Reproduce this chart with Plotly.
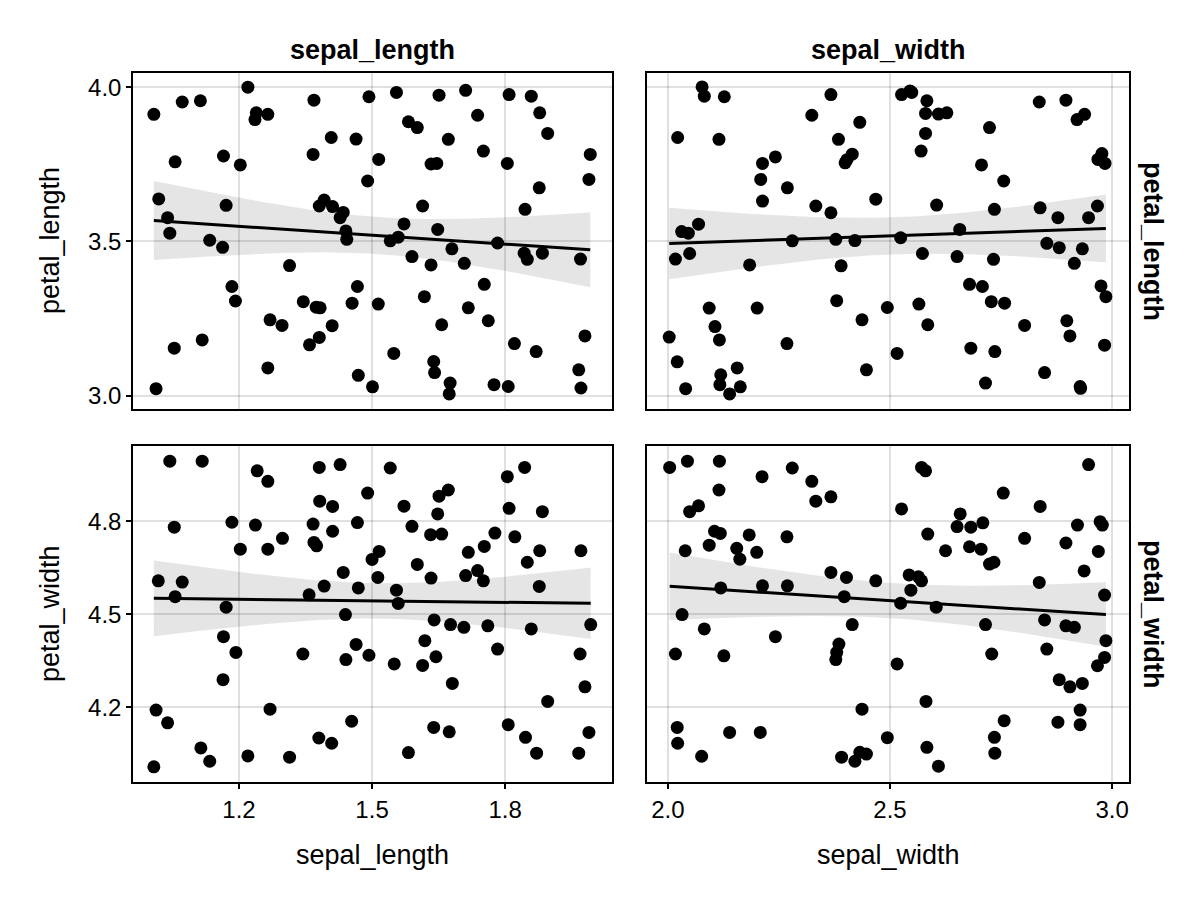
import numpy as np
import plotly.graph_objects as go
from plotly.subplots import make_subplots

# top-left: sepal_length vs petal_length
tl_x = [1.220, 1.072, 1.113, 1.008, 1.239, 1.265, 1.236, 1.056, 1.165, 1.203, 1.019, 1.171, 1.039,
        1.044, 1.134, 1.163, 1.314, 1.184, 1.192, 1.270, 1.297, 1.117, 1.054, 1.265, 1.013,
        1.369, 1.493, 1.555, 1.651, 1.582, 1.602, 1.672, 1.408, 1.464, 1.367, 1.515, 1.633, 1.646,
        1.490, 1.392, 1.381, 1.411, 1.435, 1.428, 1.614, 1.572, 1.648, 1.441, 1.443, 1.559, 1.541,
        1.680, 1.590, 1.633, 1.345, 1.374, 1.383, 1.467, 1.455, 1.514, 1.618, 1.410, 1.381, 1.359,
        1.657, 1.549, 1.639, 1.641, 1.469, 1.501, 1.676, 1.674,
        1.711, 1.809, 1.859, 1.738, 1.878, 1.896, 1.751, 1.805, 1.992, 1.989, 1.877, 1.845, 1.783,
        1.708, 1.843, 1.850, 1.884, 1.970, 1.753, 1.717, 1.762, 1.980, 1.821, 1.870, 1.966, 1.775,
        1.807, 1.971]
tl_y = [4.000, 3.952, 3.956, 3.912, 3.917, 3.912, 3.895, 3.758, 3.777, 3.748, 3.638, 3.617, 3.577,
        3.527, 3.504, 3.481, 3.422, 3.354, 3.307, 3.246, 3.228, 3.181, 3.154, 3.090, 3.023,
        3.958, 3.969, 3.983, 3.974, 3.888, 3.869, 3.831, 3.837, 3.832, 3.782, 3.766, 3.751, 3.753,
        3.696, 3.634, 3.615, 3.613, 3.594, 3.577, 3.615, 3.557, 3.539, 3.534, 3.507, 3.514, 3.502,
        3.476, 3.451, 3.424, 3.305, 3.287, 3.285, 3.354, 3.300, 3.297, 3.321, 3.227, 3.189, 3.165,
        3.230, 3.137, 3.111, 3.075, 3.066, 3.029, 3.041, 3.006,
        3.990, 3.976, 3.971, 3.909, 3.917, 3.850, 3.793, 3.753, 3.782, 3.701, 3.674, 3.604, 3.495,
        3.429, 3.462, 3.442, 3.462, 3.443, 3.361, 3.285, 3.243, 3.194, 3.169, 3.143, 3.084, 3.036,
        3.030, 3.025]

# top-right: sepal_width vs petal_length
tr_x = [2.077, 2.082, 2.127, 2.022, 2.115, 2.242, 2.213, 2.209, 2.269, 2.213, 2.069, 2.031, 2.046,
        2.280, 2.017, 2.049, 2.184, 2.093, 2.201, 2.106, 2.003, 2.116, 2.268, 2.021, 2.156, 2.119,
        2.117, 2.163, 2.040, 2.139,
        2.367, 2.526, 2.545, 2.583, 2.324, 2.580, 2.609, 2.628, 2.432, 2.580, 2.384, 2.415, 2.399,
        2.570, 2.468, 2.333, 2.367, 2.605, 2.657, 2.378, 2.421, 2.524, 2.573, 2.651, 2.390, 2.380,
        2.494, 2.565, 2.437, 2.585, 2.516, 2.447, 2.403, 2.549,
        2.836, 2.896, 2.921, 2.938, 2.724, 2.706, 2.977, 2.968, 2.984, 2.756, 2.735, 2.838, 2.878,
        2.967, 2.947, 2.853, 2.881, 2.933, 2.915, 2.733, 2.679, 2.708, 2.728, 2.758, 2.975, 2.986,
        2.803, 2.898, 2.905, 2.682, 2.736, 2.983, 2.848, 2.715, 2.928, 2.929]
tr_y = [4.001, 3.971, 3.969, 3.837, 3.831, 3.774, 3.753, 3.701, 3.674, 3.631, 3.556, 3.532, 3.527,
        3.502, 3.443, 3.461, 3.424, 3.284, 3.284, 3.224, 3.190, 3.181, 3.169, 3.110, 3.090, 3.068,
        3.036, 3.029, 3.023, 3.006,
        3.976, 3.976, 3.988, 3.956, 3.909, 3.915, 3.913, 3.917, 3.886, 3.850, 3.831, 3.783, 3.755,
        3.793, 3.637, 3.615, 3.593, 3.618, 3.539, 3.507, 3.503, 3.512, 3.461, 3.451, 3.421, 3.308,
        3.286, 3.297, 3.246, 3.230, 3.137, 3.084, 3.765, 3.983,
        3.952, 3.958, 3.895, 3.912, 3.869, 3.748, 3.785, 3.766, 3.753, 3.696, 3.604, 3.609, 3.577,
        3.615, 3.577, 3.494, 3.480, 3.476, 3.429, 3.442, 3.361, 3.354, 3.305, 3.300, 3.356, 3.321,
        3.228, 3.243, 3.194, 3.154, 3.143, 3.164, 3.075, 3.041, 3.030, 3.024]

# bottom-left: sepal_length vs petal_width
bl_x = [1.044, 1.117, 1.241, 1.265, 1.054, 1.184, 1.237, 1.298, 1.203, 1.265, 1.018, 1.072, 1.056,
        1.171, 1.165, 1.193, 1.164, 1.013, 1.039, 1.270, 1.114, 1.134, 1.220, 1.314, 1.008,
        1.381, 1.428, 1.541, 1.490, 1.382, 1.411, 1.572, 1.651, 1.672, 1.648, 1.367, 1.467, 1.411,
        1.590, 1.632, 1.657, 1.369, 1.375, 1.516, 1.500, 1.602, 1.435, 1.513, 1.633, 1.392, 1.469,
        1.358, 1.555, 1.559, 1.440, 1.640, 1.677, 1.464, 1.619, 1.344, 1.441, 1.493, 1.550, 1.614,
        1.644, 1.681, 1.454, 1.380, 1.409, 1.582, 1.639, 1.674,
        1.844, 1.805, 1.809, 1.884, 1.777, 1.822, 1.753, 1.717, 1.878, 1.971, 1.850, 1.738, 1.711,
        1.751, 1.877, 1.707, 1.761, 1.859, 1.993, 1.783, 1.969, 1.980, 1.896, 1.807, 1.846, 1.871,
        1.966, 1.989]
bl_y = [4.994, 4.994, 4.963, 4.929, 4.781, 4.797, 4.788, 4.745, 4.710, 4.710, 4.608, 4.604, 4.557,
        4.523, 4.428, 4.377, 4.289, 4.191, 4.150, 4.194, 4.069, 4.026, 4.043, 4.039, 4.008,
        4.974, 4.983, 4.972, 4.891, 4.865, 4.848, 4.849, 4.881, 4.901, 4.824, 4.791, 4.796, 4.768,
        4.784, 4.757, 4.759, 4.732, 4.721, 4.703, 4.677, 4.661, 4.635, 4.619, 4.617, 4.591, 4.585,
        4.563, 4.578, 4.535, 4.499, 4.482, 4.467, 4.403, 4.415, 4.372, 4.354, 4.368, 4.340, 4.335,
        4.363, 4.277, 4.155, 4.101, 4.084, 4.054, 4.135, 4.121,
        4.974, 4.944, 4.842, 4.831, 4.762, 4.750, 4.719, 4.700, 4.705, 4.705, 4.668, 4.641, 4.625,
        4.608, 4.590, 4.458, 4.463, 4.453, 4.467, 4.388, 4.372, 4.266, 4.219, 4.144, 4.103, 4.052,
        4.052, 4.119]

# bottom-right: sepal_width vs petal_width
br_x = [2.004, 2.044, 2.116, 2.212, 2.280, 2.115, 2.049, 2.069, 2.105, 2.118, 2.183, 2.268, 2.039,
        2.093, 2.155, 2.162, 2.200, 2.119, 2.213, 2.269, 2.032, 2.082, 2.242, 2.017, 2.126, 2.021,
        2.022, 2.139, 2.208, 2.076,
        2.324, 2.333, 2.367, 2.571, 2.580, 2.526, 2.658, 2.651, 2.585, 2.625, 2.367, 2.402, 2.468,
        2.543, 2.564, 2.571, 2.547, 2.397, 2.524, 2.604, 2.415, 2.385, 2.380, 2.378, 2.516, 2.581,
        2.437, 2.494, 2.391, 2.421, 2.432, 2.447, 2.583, 2.609,
        2.947, 2.755, 2.838, 2.682, 2.709, 2.679, 2.705, 2.803, 2.896, 2.922, 2.973, 2.978, 2.969,
        2.937, 2.724, 2.734, 2.836, 2.983, 2.715, 2.848, 2.896, 2.915, 2.986, 2.983, 2.967, 2.853,
        2.729, 2.881, 2.905, 2.933, 2.928, 2.878, 2.928, 2.757, 2.735, 2.736]
br_y = [4.974, 4.994, 4.994, 4.944, 4.972, 4.901, 4.831, 4.850, 4.768, 4.761, 4.756, 4.750, 4.705,
        4.723, 4.713, 4.678, 4.700, 4.585, 4.592, 4.592, 4.499, 4.453, 4.428, 4.372, 4.366, 4.135,
        4.084, 4.119, 4.119, 4.042,
        4.929, 4.865, 4.879, 4.974, 4.963, 4.840, 4.824, 4.783, 4.759, 4.705, 4.635, 4.619, 4.608,
        4.627, 4.621, 4.608, 4.578, 4.557, 4.536, 4.523, 4.467, 4.404, 4.377, 4.354, 4.340, 4.219,
        4.194, 4.102, 4.039, 4.026, 4.055, 4.049, 4.071, 4.010,
        4.983, 4.891, 4.848, 4.781, 4.795, 4.718, 4.710, 4.745, 4.730, 4.788, 4.799, 4.788, 4.703,
        4.640, 4.662, 4.668, 4.603, 4.562, 4.467, 4.482, 4.463, 4.458, 4.415, 4.361, 4.334, 4.388,
        4.372, 4.289, 4.266, 4.277, 4.191, 4.152, 4.144, 4.157, 4.103, 4.052]

col_titles = ["sepal_length", "sepal_width"]
row_titles = ["petal_length", "petal_width"]

FONT = "Liberation Sans"
TICK_FS = 24
LABEL_FS = 27

# the page draws the figure 8px in from the window corner
W, H, OFF = 1184, 884, 8


def px_x(p):
    return (p - OFF) / W


def px_y(p):
    return 1 - (p - OFF) / H


def fit_band(x, y, npts=80):
    # linear fit with 95% confidence band
    x = np.asarray(x)
    y = np.asarray(y)
    n = len(x)
    b, a = np.polyfit(x, y, 1)
    resid = y - (a + b * x)
    s = np.sqrt(np.sum(resid ** 2) / (n - 2))
    xm = x.mean()
    sxx = np.sum((x - xm) ** 2)
    xs = np.linspace(x.min(), x.max(), npts)
    yh = a + b * xs
    se = s * np.sqrt(1.0 / n + (xs - xm) ** 2 / sxx)
    t = 1.984
    return xs, yh, yh - t * se, yh + t * se


fig = make_subplots(rows=2, cols=2)

panels = [
    (tl_x, tl_y, 1, 1),
    (tr_x, tr_y, 1, 2),
    (bl_x, bl_y, 2, 1),
    (br_x, br_y, 2, 2),
]

for x, y, r, c in panels:
    xs, yh, lo, hi = fit_band(x, y)
    fig.add_trace(go.Scatter(x=np.concatenate([xs, xs[::-1]]),
                             y=np.concatenate([hi, lo[::-1]]),
                             fill="toself", fillcolor="rgba(0,0,0,0.1)",
                             line=dict(width=0), mode="lines", hoverinfo="skip"),
                  row=r, col=c)
    fig.add_trace(go.Scatter(x=x, y=y, mode="markers",
                             marker=dict(color="black", size=13)),
                  row=r, col=c)
    fig.add_trace(go.Scatter(x=xs, y=yh, mode="lines",
                             line=dict(color="black", width=3)),
                  row=r, col=c)

xdom = [[px_x(133), px_x(612)], [px_x(647), px_x(1129)]]
ydom = [[px_y(409), px_y(73)], [px_y(782), px_y(446)]]
xranges = [[0.961, 2.041], [1.953, 3.038]]
yranges = [[2.957, 4.046], [3.959, 5.043]]
xticks = [[1.2, 1.5, 1.8], [2.0, 2.5, 3.0]]
xtext = [["1.2", "1.5", "1.8"], ["2.0", "2.5", "3.0"]]
yticks = [[3.0, 3.5, 4.0], [4.2, 4.5, 4.8]]
ytext = [["3.0", "3.5", "4.0"], ["4.2", "4.5", "4.8"]]

axis_common = dict(showline=True, linecolor="black", linewidth=1.5, mirror=True,
                   showgrid=True, gridcolor="rgba(0,0,0,0.12)", gridwidth=1.5,
                   zeroline=False, tickfont=dict(family=FONT, size=TICK_FS, color="black"),
                   ticklen=5, tickwidth=1.5, tickcolor="black")

for r in (1, 2):
    for c in (1, 2):
        bottom = r == 2
        left = c == 1
        fig.update_xaxes(domain=xdom[c - 1], range=xranges[c - 1],
                         tickvals=xticks[c - 1], ticktext=xtext[c - 1],
                         showticklabels=bottom, ticks="outside" if bottom else "",
                         row=r, col=c, **axis_common)
        fig.update_yaxes(domain=ydom[r - 1], range=yranges[r - 1],
                         tickvals=yticks[r - 1], ticktext=ytext[r - 1],
                         showticklabels=left, ticks="outside" if left else "",
                         row=r, col=c, **axis_common)

label_font = dict(family=FONT, size=LABEL_FS, color="black")
annotations = []
for i, name in enumerate(col_titles):
    cx = (xdom[i][0] + xdom[i][1]) / 2
    annotations.append(dict(text="<b>%s</b>" % name, x=cx, y=px_y(50),
                            xref="paper", yref="paper", showarrow=False,
                            xanchor="center", yanchor="middle", font=label_font))
    annotations.append(dict(text=name, x=cx, y=px_y(855),
                            xref="paper", yref="paper", showarrow=False,
                            xanchor="center", yanchor="middle", font=label_font))
for i, name in enumerate(row_titles):
    cy = (ydom[i][0] + ydom[i][1]) / 2
    annotations.append(dict(text="<b>%s</b>" % name, x=px_x(1153), y=cy,
                            xref="paper", yref="paper", showarrow=False, textangle=90,
                            xanchor="center", yanchor="middle", font=label_font))
    annotations.append(dict(text=name, x=px_x(50), y=cy,
                            xref="paper", yref="paper", showarrow=False, textangle=-90,
                            xanchor="center", yanchor="middle", font=label_font))

fig.update_layout(width=W, height=H, margin=dict(l=0, r=0, t=0, b=0),
                  plot_bgcolor="white", paper_bgcolor="white",
                  showlegend=False, annotations=annotations)

fig.write_html("out.html")
